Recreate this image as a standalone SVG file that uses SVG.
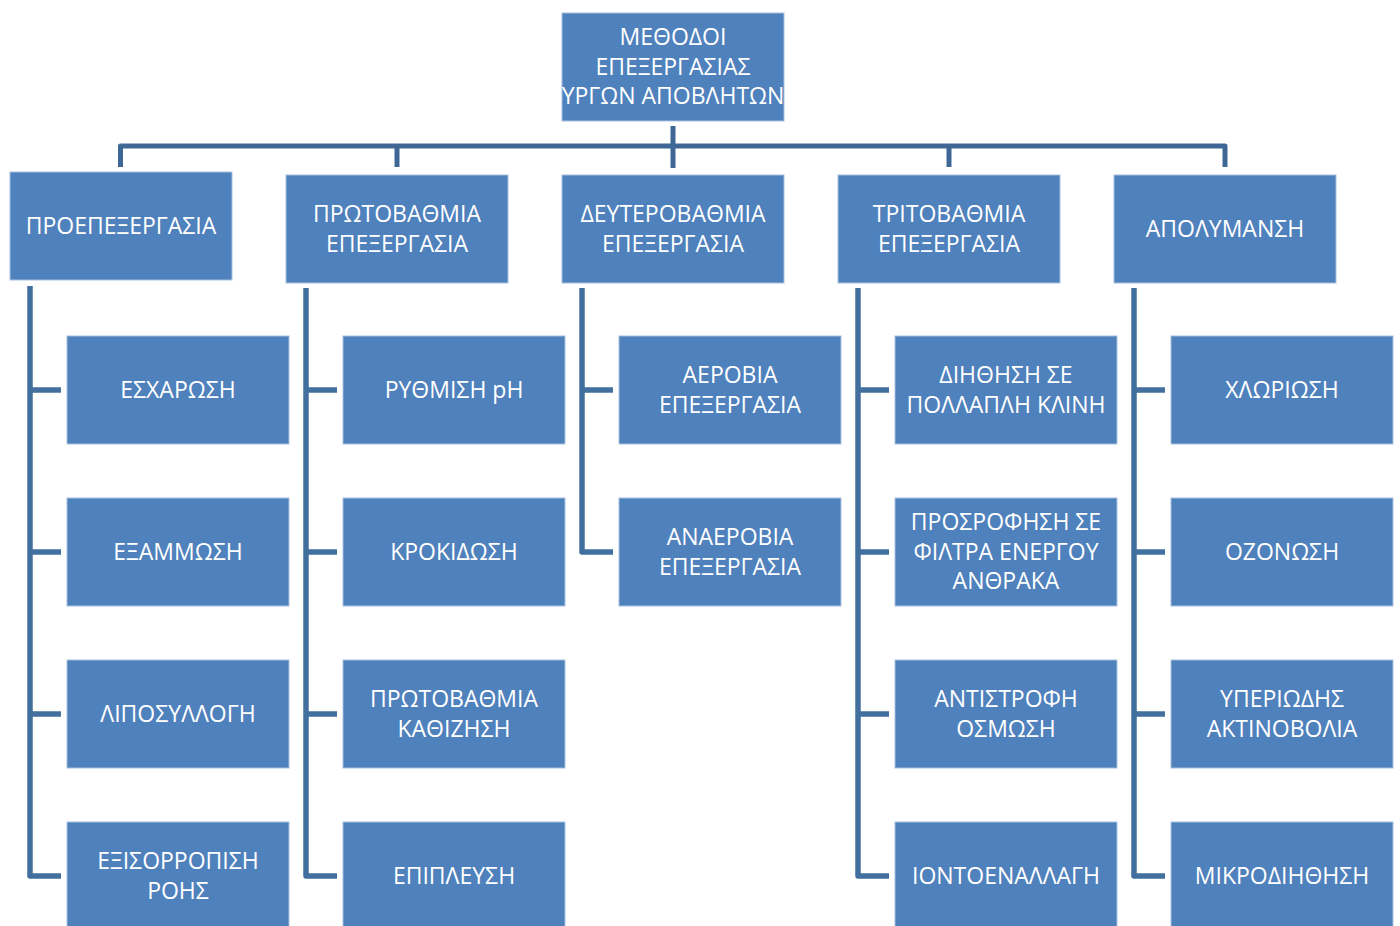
<svg xmlns="http://www.w3.org/2000/svg" width="1400" height="926" viewBox="0 0 1400 926">
<style>
.box{fill:#4F81BD;stroke:#A9C0DF;stroke-width:1}
.t{font-family:"Open Sans","Noto Sans",sans-serif;font-size:23px;fill:#FFFFFF;text-anchor:middle}
.c{fill:none;stroke:#41709F;stroke-width:5.5;stroke-linejoin:round;stroke-linecap:butt}
.top{stroke:#3E6796;stroke-width:5}
</style>
<defs>
<clipPath id="clipRoot"><rect x="562" y="13" width="222" height="108"/></clipPath>
</defs>
<rect width="1400" height="926" fill="#FFFFFF"/>
<g id="connectors">
<path class="c top" d="M673,126 V168"/>
<path class="c top" d="M120.5,167 V146 H1225 V167"/>
<path class="c top" d="M397,146 V167"/>
<path class="c top" d="M949,146 V167"/>
<path class="c" d="M30,286 V876 H61"/>
<path class="c" d="M30,390 H61 M30,552 H61 M30,714 H61"/>
<path class="c" d="M306,288 V876 H337"/>
<path class="c" d="M306,390 H337 M306,552 H337 M306,714 H337"/>
<path class="c" d="M582,288 V552 H613"/>
<path class="c" d="M582,390 H613"/>
<path class="c" d="M858,288 V876 H889"/>
<path class="c" d="M858,390 H889 M858,552 H889 M858,714 H889"/>
<path class="c" d="M1134,288 V876 H1165"/>
<path class="c" d="M1134,390 H1165 M1134,552 H1165 M1134,714 H1165"/>
</g>
<g id="root">
<rect class="box" x="562" y="13" width="222" height="108"/>
<g clip-path="url(#clipRoot)">
<text class="t" x="673" y="45">ΜΕΘΟΔΟΙ</text>
<text class="t" x="673" y="75">ΕΠΕΞΕΡΓΑΣΙΑΣ</text>
<text class="t" x="673" y="104">ΥΡΓΩΝ ΑΠΟΒΛΗΤΩΝ</text>
</g>
</g>
<g id="n-proepexergasia">
<rect class="box" x="10" y="172" width="222" height="108"/>
<text class="t" x="121" y="234">ΠΡΟΕΠΕΞΕΡΓΑΣΙΑ</text>
</g>
<g id="n-protovathmia">
<rect class="box" x="286" y="175" width="222" height="108"/>
<text class="t" x="397" y="222">ΠΡΩΤΟΒΑΘΜΙΑ</text>
<text class="t" x="397" y="252">ΕΠΕΞΕΡΓΑΣΙΑ</text>
</g>
<g id="n-defterovathmia">
<rect class="box" x="562" y="175" width="222" height="108"/>
<text class="t" x="673" y="222">ΔΕΥΤΕΡΟΒΑΘΜΙΑ</text>
<text class="t" x="673" y="252">ΕΠΕΞΕΡΓΑΣΙΑ</text>
</g>
<g id="n-tritovathmia">
<rect class="box" x="838" y="175" width="222" height="108"/>
<text class="t" x="949" y="222">ΤΡΙΤΟΒΑΘΜΙΑ</text>
<text class="t" x="949" y="252">ΕΠΕΞΕΡΓΑΣΙΑ</text>
</g>
<g id="n-apolymansi">
<rect class="box" x="1114" y="175" width="222" height="108"/>
<text class="t" x="1225" y="237">ΑΠΟΛΥΜΑΝΣΗ</text>
</g>
<g id="n-escharosi">
<rect class="box" x="67" y="336" width="222" height="108"/>
<text class="t" x="178" y="398">ΕΣΧΑΡΩΣΗ</text>
</g>
<g id="n-exammosi">
<rect class="box" x="67" y="498" width="222" height="108"/>
<text class="t" x="178" y="560">ΕΞΑΜΜΩΣΗ</text>
</g>
<g id="n-liposyllogi">
<rect class="box" x="67" y="660" width="222" height="108"/>
<text class="t" x="178" y="722">ΛΙΠΟΣΥΛΛΟΓΗ</text>
</g>
<g id="n-exisorropisi">
<rect class="box" x="67" y="822" width="222" height="108"/>
<text class="t" x="178" y="869">ΕΞΙΣΟΡΡΟΠΙΣΗ</text>
<text class="t" x="178" y="899">ΡΟΗΣ</text>
</g>
<g id="n-rythmisi-ph">
<rect class="box" x="343" y="336" width="222" height="108"/>
<text class="t" x="454" y="398">ΡΥΘΜΙΣΗ pH</text>
</g>
<g id="n-krokidosi">
<rect class="box" x="343" y="498" width="222" height="108"/>
<text class="t" x="454" y="560">ΚΡΟΚΙΔΩΣΗ</text>
</g>
<g id="n-kathizisi">
<rect class="box" x="343" y="660" width="222" height="108"/>
<text class="t" x="454" y="707">ΠΡΩΤΟΒΑΘΜΙΑ</text>
<text class="t" x="454" y="737">ΚΑΘΙΖΗΣΗ</text>
</g>
<g id="n-epiplefsi">
<rect class="box" x="343" y="822" width="222" height="108"/>
<text class="t" x="454" y="884">ΕΠΙΠΛΕΥΣΗ</text>
</g>
<g id="n-aerobia">
<rect class="box" x="619" y="336" width="222" height="108"/>
<text class="t" x="730" y="383">ΑΕΡΟΒΙΑ</text>
<text class="t" x="730" y="413">ΕΠΕΞΕΡΓΑΣΙΑ</text>
</g>
<g id="n-anaerobia">
<rect class="box" x="619" y="498" width="222" height="108"/>
<text class="t" x="730" y="545">ΑΝΑΕΡΟΒΙΑ</text>
<text class="t" x="730" y="575">ΕΠΕΞΕΡΓΑΣΙΑ</text>
</g>
<g id="n-diithisi">
<rect class="box" x="895" y="336" width="222" height="108"/>
<text class="t" x="1006" y="383">ΔΙΗΘΗΣΗ ΣΕ</text>
<text class="t" x="1006" y="413">ΠΟΛΛΑΠΛΗ ΚΛΙΝΗ</text>
</g>
<g id="n-prosrofisi">
<rect class="box" x="895" y="498" width="222" height="108"/>
<text class="t" x="1006" y="530">ΠΡΟΣΡΟΦΗΣΗ ΣΕ</text>
<text class="t" x="1006" y="560">ΦΙΛΤΡΑ ΕΝΕΡΓΟΥ</text>
<text class="t" x="1006" y="589">ΑΝΘΡΑΚΑ</text>
</g>
<g id="n-antistrofi">
<rect class="box" x="895" y="660" width="222" height="108"/>
<text class="t" x="1006" y="707">ΑΝΤΙΣΤΡΟΦΗ</text>
<text class="t" x="1006" y="737">ΟΣΜΩΣΗ</text>
</g>
<g id="n-iontoenallagi">
<rect class="box" x="895" y="822" width="222" height="108"/>
<text class="t" x="1006" y="884">ΙΟΝΤΟΕΝΑΛΛΑΓΗ</text>
</g>
<g id="n-chloriosi">
<rect class="box" x="1171" y="336" width="222" height="108"/>
<text class="t" x="1282" y="398">ΧΛΩΡΙΩΣΗ</text>
</g>
<g id="n-ozonosi">
<rect class="box" x="1171" y="498" width="222" height="108"/>
<text class="t" x="1282" y="560">ΟΖΟΝΩΣΗ</text>
</g>
<g id="n-yperiodis">
<rect class="box" x="1171" y="660" width="222" height="108"/>
<text class="t" x="1282" y="707">ΥΠΕΡΙΩΔΗΣ</text>
<text class="t" x="1282" y="737">ΑΚΤΙΝΟΒΟΛΙΑ</text>
</g>
<g id="n-mikrodiithisi">
<rect class="box" x="1171" y="822" width="222" height="108"/>
<text class="t" x="1282" y="884">ΜΙΚΡΟΔΙΗΘΗΣΗ</text>
</g>
</svg>
